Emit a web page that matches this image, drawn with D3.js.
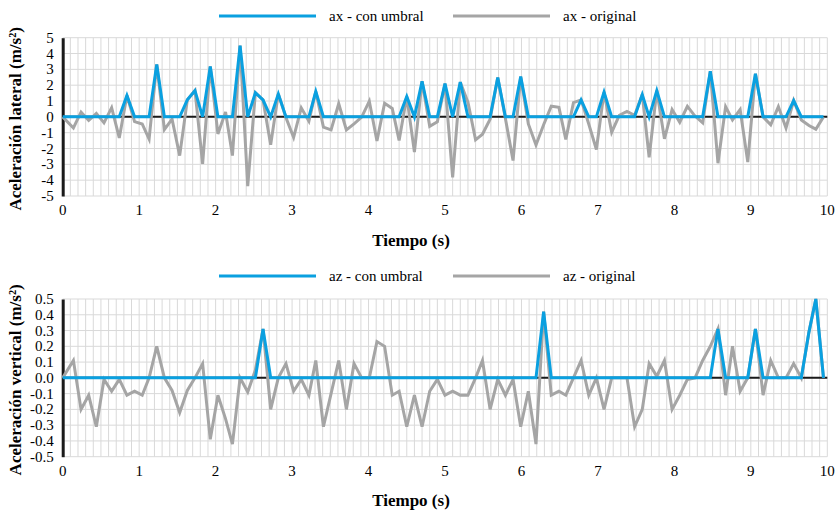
<!DOCTYPE html>
<html>
<head>
<meta charset="utf-8">
<script src="https://cdn.jsdelivr.net/npm/d3@7"></script>
</head>
<body style="margin:0">
<svg id="chart" width="836" height="512" font-family="Liberation Serif"></svg>
<script>
// tiempo de muestreo (s)
const tiempo = [0, 0.14, 0.24, 0.34, 0.44, 0.54, 0.64, 0.74, 0.84, 0.94,
  1.04, 1.13, 1.23, 1.33, 1.43, 1.53, 1.63, 1.73, 1.83, 1.93,
  2.03, 2.13, 2.22, 2.32, 2.42, 2.52, 2.62, 2.72, 2.82, 2.92,
  3.02, 3.12, 3.22, 3.31, 3.41, 3.51, 3.61, 3.71, 3.81, 3.91,
  4.01, 4.11, 4.21, 4.31, 4.40, 4.50, 4.60, 4.70, 4.80, 4.90,
  5.00, 5.10, 5.20, 5.30, 5.40, 5.49, 5.59, 5.69, 5.79, 5.89,
  5.99, 6.09, 6.19, 6.29, 6.39, 6.49, 6.58, 6.68, 6.78, 6.88,
  6.98, 7.08, 7.18, 7.28, 7.38, 7.48, 7.58, 7.67, 7.77, 7.87,
  7.97, 8.07, 8.17, 8.27, 8.37, 8.47, 8.57, 8.67, 8.76, 8.86,
  8.96, 9.06, 9.16, 9.26, 9.36, 9.46, 9.56, 9.66, 9.76, 9.85, 9.95];

// aceleracion lateral (m/s2)
const axOriginal = [0, -0.7, 0.3, -0.23, 0.22, -0.38, 0.58, -1.33, 1.35, -0.3,
  -0.45, -1.4, 3.31, -0.8, -0.14, -2.45, 1.07, 1.66, -2.97, 3.19,
  -1.08, 0.31, -2.45, 4.5, -4.38, 1.53, 1.07, -1.76, 1.45, -0.05,
  -1.3, 0.57, -0.27, 1.6, -0.65, -0.82, 0.83, -0.82, -0.44, -0.02,
  0.99, -1.52, 0.86, 0.53, -1.49, 1.28, -2.23, 2.25, -0.6, -0.32,
  2.1, -3.83, 2.19, 0.93, -1.45, -1.1, -0.15, 2.48, -0.1, -2.76,
  2.54, -0.45, -1.78, -0.5, 0.67, 0.6, -1.42, 0.9, 1.07, -0.45,
  -2.06, 1.56, -0.97, 0.1, 0.34, 0.1, 1.41, -2.55, 1.66, -1.39,
  0.46, -0.34, 0.67, 0.05, -0.38, 2.88, -2.93, 0.65, -0.19, 0.46,
  -2.86, 2.72, 0, -0.5, 0.65, -0.7, 1.03, -0.2, -0.55, -0.78, 0];

const axUmbral = [0, 0, 0, 0, 0, 0, 0, 0, 1.35, 0,
  0, 0, 3.31, 0, 0, 0, 1.07, 1.66, 0, 3.19,
  0, 0, 0, 4.5, 0, 1.53, 1.07, 0, 1.45, 0,
  0, 0, 0, 1.6, 0, 0, 0, 0, 0, 0,
  0, 0, 0, 0, 0, 1.28, 0, 2.25, 0, 0,
  2.1, 0, 2.19, 0, 0, 0, 0, 2.48, 0, 0,
  2.54, 0, 0, 0, 0, 0, 0, 0, 1.07, 0,
  0, 1.56, 0, 0, 0, 0, 1.41, 0, 1.66, 0,
  0, 0, 0, 0, 0, 2.88, 0, 0, 0, 0,
  0, 2.72, 0, 0, 0, 0, 1.03, 0, 0, 0, 0];

// aceleracion vertical (m/s2)
const azOriginal = [0, 0.11, -0.2, -0.11, -0.31, -0.01, -0.085, -0.01, -0.11, -0.085,
  -0.11, 0, 0.2, 0, -0.08, -0.22, -0.08, 0, 0.09, -0.39,
  -0.11, -0.26, -0.42, 0, -0.09, 0.05, 0.31, -0.2, 0, 0.09,
  -0.085, -0.01, -0.11, 0.11, -0.31, -0.1, 0.11, -0.2, 0.09, 0,
  0, 0.23, 0.2, -0.11, -0.085, -0.31, -0.11, -0.31, -0.085, -0.01,
  -0.11, -0.085, -0.11, -0.11, 0, 0.11, -0.2, -0.01, -0.11, -0.01,
  -0.31, -0.085, -0.42, 0.42, -0.11, -0.085, -0.11, 0, 0.11, -0.11,
  0, -0.2, 0, 0, 0, -0.31, -0.2, 0.09, 0.01, 0.11,
  -0.2, -0.11, -0.01, 0, 0.11, 0.2, 0.31, -0.11, 0.2, -0.085,
  0, 0.31, -0.11, 0.11, 0, 0, 0.09, 0, 0.29, 0.5, 0];

const azUmbral = [0, 0, 0, 0, 0, 0, 0, 0, 0, 0,
  0, 0, 0, 0, 0, 0, 0, 0, 0, 0,
  0, 0, 0, 0, 0, 0, 0.31, 0, 0, 0,
  0, 0, 0, 0, 0, 0, 0, 0, 0, 0,
  0, 0, 0, 0, 0, 0, 0, 0, 0, 0,
  0, 0, 0, 0, 0, 0, 0, 0, 0, 0,
  0, 0, 0, 0.42, 0, 0, 0, 0, 0, 0,
  0, 0, 0, 0, 0, 0, 0, 0, 0, 0,
  0, 0, 0, 0, 0, 0, 0.31, 0, 0, 0,
  0, 0.31, 0, 0, 0, 0, 0, 0, 0.29, 0.5, 0];

const xTicks = [0, 1, 2, 3, 4, 5, 6, 7, 8, 9, 10];
const axTicks = [-5, -4, -3, -2, -1, 0, 1, 2, 3, 4, 5];
const azTicks = [-0.5, -0.4, -0.3, -0.2, -0.1, 0, 0.1, 0.2, 0.3, 0.4, 0.5];

const colorUmbral = '#0aa0e0';
const colorOriginal = '#a5a5a5';

const svg = d3.select('#chart');

function addText(parent, txt, size) {
  return parent.append('text')
    .style('font-family', '"Liberation Serif"')
    .style('font-size', size + 'px')
    .text(txt);
}

function drawPanel(opts) {
  let g = svg.append('g');

  let x = d3.scaleLinear().domain([0, 10]).range([62.7, 827.3]);
  let y = d3.scaleLinear().domain(opts.domain).range([opts.bottom, opts.top]);

  // grid vertical cada 0.1 s
  g.append('g')
    .selectAll('line')
    .data(d3.range(1, 101).map(d => d / 10))
    .enter().append('line')
    .attr('x1', d => x(d)).attr('x2', d => x(d))
    .attr('y1', opts.top).attr('y2', opts.bottom)
    .attr('stroke', '#d9d9d9')
    .attr('stroke-width', 1);

  g.append('g')
    .selectAll('line')
    .data(opts.ticks)
    .enter().append('line')
    .attr('x1', x(0)).attr('x2', x(10))
    .attr('y1', d => y(d)).attr('y2', d => y(d))
    .attr('stroke', '#d9d9d9')
    .attr('stroke-width', 1);

  // linea de cero
  g.append('line')
    .attr('x1', x(0)).attr('x2', x(10))
    .attr('y1', y(0)).attr('y2', y(0))
    .attr('stroke', '#1a1a1a')
    .attr('stroke-width', 2);

  // eje y (solo la linea, las etiquetas van aparte)
  let yAxis = g.append('g')
    .attr('transform', `translate(${x(0)},0)`)
    .call(d3.axisLeft(y).tickValues(opts.ticks).tickSize(0).tickFormat(''));
  yAxis.select('.domain').attr('stroke', '#1a1a1a').attr('stroke-width', 3);

  g.append('g')
    .selectAll('text')
    .data(opts.ticks)
    .enter().append('text')
    .attr('x', x(0) - 9)
    .attr('y', d => y(d) + 5)
    .attr('text-anchor', 'end')
    .style('font-family', '"Liberation Serif"')
    .style('font-size', '15px')
    .text(opts.format);

  // eje x
  g.append('g')
    .selectAll('text')
    .data(xTicks)
    .enter().append('text')
    .attr('x', d => x(d))
    .attr('y', opts.bottom + 19)
    .attr('text-anchor', 'middle')
    .style('font-family', '"Liberation Serif"')
    .style('font-size', '15px')
    .text(d => d);

  let line = d3.line()
    .x((d, i) => x(tiempo[i]))
    .y(d => y(d));

  g.append('path')
    .datum(opts.original)
    .attr('d', line)
    .attr('fill', 'none')
    .attr('stroke', colorOriginal)
    .attr('stroke-width', 3)
    .attr('stroke-linejoin', 'miter');

  g.append('path')
    .datum(opts.umbral)
    .attr('d', line)
    .attr('fill', 'none')
    .attr('stroke', colorUmbral)
    .attr('stroke-width', 3)
    .attr('stroke-linejoin', 'miter');

  // titulos
  addText(g, 'Tiempo (s)', 17)
    .attr('x', 411)
    .attr('y', opts.xTitleY)
    .attr('text-anchor', 'middle')
    .style('font-weight', 'bold');

  addText(g, opts.yTitle, 17)
    .attr('transform', `translate(21,${(opts.top + opts.bottom) / 2 + 2}) rotate(-90)`)
    .attr('text-anchor', 'middle')
    .style('font-weight', 'bold');

  // leyenda
  let leg = g.append('g').attr('transform', `translate(0,${opts.legendY})`);
  leg.append('line')
    .attr('x1', 219).attr('x2', 316).attr('y1', 0).attr('y2', 0)
    .attr('stroke', colorUmbral).attr('stroke-width', 3);
  addText(leg, opts.names[0], 15).attr('x', 329).attr('y', 5);
  leg.append('line')
    .attr('x1', 453).attr('x2', 550).attr('y1', 0).attr('y2', 0)
    .attr('stroke', colorOriginal).attr('stroke-width', 3);
  addText(leg, opts.names[1], 15).attr('x', 563).attr('y', 5);
}

drawPanel({
  top: 37.7, bottom: 196,
  domain: [-5, 5],
  ticks: axTicks,
  format: d => d.toFixed(0),
  original: axOriginal,
  umbral: axUmbral,
  yTitle: 'Aceleración lateral (m/s²)',
  xTitleY: 246,
  legendY: 16,
  names: ['ax - con umbral', 'ax - original']
});

drawPanel({
  top: 299, bottom: 456.7,
  domain: [-0.5, 0.5],
  ticks: azTicks,
  format: d => d.toFixed(1),
  original: azOriginal,
  umbral: azUmbral,
  yTitle: 'Aceleración vertical (m/s²)',
  xTitleY: 506,
  legendY: 276,
  names: ['az - con umbral', 'az - original']
});
</script>
</body>
</html>
